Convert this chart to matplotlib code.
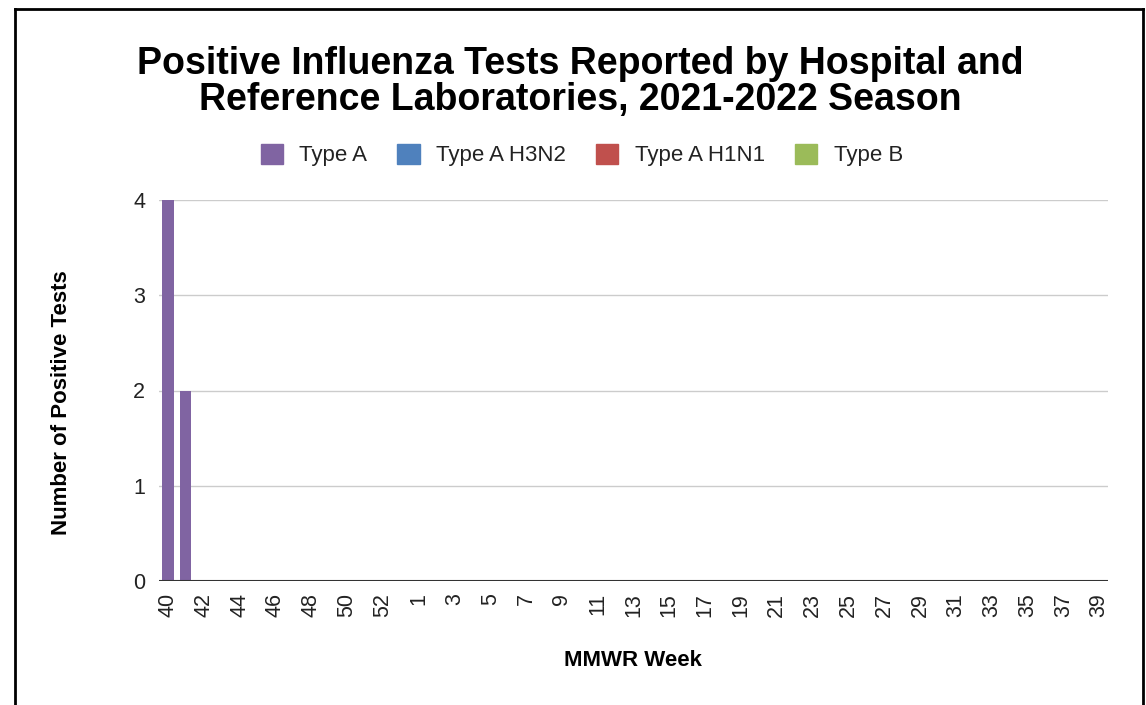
import numpy as np
import matplotlib
matplotlib.use("Agg")
import matplotlib.pyplot as plt
from matplotlib.lines import Line2D
from matplotlib.patches import Patch

plt.rcParams["font.family"] = ["Liberation Sans", "DejaVu Sans"]

weeks = [str(w) for w in list(range(40, 54)) + list(range(1, 40))]
type_a = [4, 2] + [0] * 51
type_a_h3n2 = [0] * 53
type_a_h1n1 = [0] * 53
type_b = [0] * 53
series = [("Type A", type_a, "#8064A2"), ("Type A H3N2", type_a_h3n2, "#4F81BD"),
          ("Type A H1N1", type_a_h1n1, "#C0504D"), ("Type B", type_b, "#9BBB59")]

W, H = 1146, 705
fig = plt.figure(figsize=(W / 100, H / 100), dpi=100)
ax = fig.add_axes([159 / W, 1 - 581 / H, (1108 - 159) / W, (581 - 200) / H])

x = np.arange(len(weeks))
bottom = np.zeros(len(weeks))
for name, vals, col in series:
    ax.bar(x, vals, 0.62, bottom=bottom, color=col, zorder=3)
    bottom += np.array(vals)

ax.set_xlim(-0.5, len(weeks) - 0.5)
ax.set_ylim(0, 4)
ax.set_yticks([0, 1, 2, 3, 4])
ax.grid(axis="y", color="#CCCCCC", lw=1.0, zorder=0)
ax.axhline(0, color="#333333", lw=1.5, zorder=4)
for s in ax.spines.values():
    s.set_visible(False)
ax.set_xticks(x[::2])
ax.set_xticklabels(weeks[::2], rotation=90)
ax.tick_params(axis="both", length=0, labelsize=15.5, labelcolor="#222222")
ax.tick_params(axis="x", pad=8.5)
ax.tick_params(axis="y", pad=10)

fig.text(633 / W, 1 - 661 / H, "MMWR Week", ha="center", va="center",
         fontsize=16, fontweight="bold")
fig.text(62 / W, 1 - 403 / H, "Number of Positive Tests", ha="center", va="center",
         rotation=90, fontsize=16, fontweight="bold")

fig.text(580 / W, 1 - 82 / H, "Positive Influenza Tests Reported by Hospital and\nReference Laboratories, 2021-2022 Season",
         ha="center", va="center", fontsize=27, fontweight="bold", linespacing=0.98)

handles = [Patch(facecolor=c, edgecolor=c) for _, _, c in series]
fig.legend(handles, [n for n, _, _ in series], loc="center", bbox_to_anchor=(582 / W, 1 - 155 / H),
           ncol=4, frameon=False, fontsize=16, handlelength=1.0, handleheight=1.0,
           columnspacing=1.35, handletextpad=0.75, labelcolor="#222222")

# outer frame
lc = dict(color="black", lw=2)
fig.add_artist(Line2D([15 / W, 15 / W], [0, 1 - 9 / H], **lc))
fig.add_artist(Line2D([15 / W, 1143 / W], [1 - 9 / H, 1 - 9 / H], **lc))
fig.add_artist(Line2D([1143 / W, 1143 / W], [0, 1 - 9 / H], **lc))

fig.savefig("out.png", dpi=100)
